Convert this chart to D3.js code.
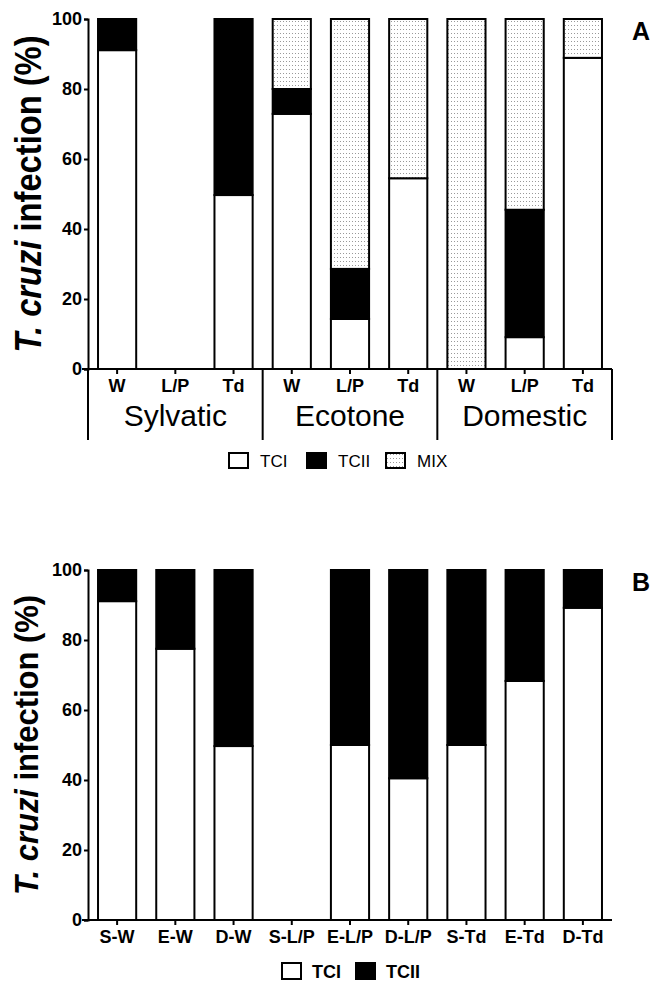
<!DOCTYPE html>
<html>
<head>
<meta charset="utf-8">
<script src="https://cdn.jsdelivr.net/npm/d3@7"></script>
<style>
    body { margin: 0; background: #fff; }
    svg { display: block; font-family: Arial, "Liberation Sans", sans-serif; }
</style>
</head>
<body>
<div id="chart"></div>
<script>
//Datos panel A
const categoriesA = ['W', 'L/P', 'Td', 'W', 'L/P', 'Td', 'W', 'L/P', 'Td'];
const groupsA = ['Sylvatic', 'Ecotone', 'Domestic'];
const tciA = [91.1, 0, 49.7, 72.9, 14.3, 54.5, 0, 9.1, 88.9];
const tciiA = [8.9, 0, 50.3, 7.1, 14.3, 0, 0, 36.4, 0];
const mixA = [0, 0, 0, 20, 71.4, 45.5, 100, 54.5, 11.1];

//Datos panel B
const categoriesB = ['S-W', 'E-W', 'D-W', 'S-L/P', 'E-L/P', 'D-L/P', 'S-Td', 'E-Td', 'D-Td'];
const tciB = [91.1, 77.5, 49.7, 0, 50, 40.5, 50, 68.3, 89.2];
const tciiB = [8.9, 22.5, 50.3, 0, 50, 59.5, 50, 31.7, 10.8];

const yTicks = [0, 20, 40, 60, 80, 100];
const yTitle = ['T. cruzi', ' infection (%)'];

let width = 655, height = 981;

let svg = d3.select('#chart').append('svg')
    .attr('width', width)
    .attr('height', height);

//Patrón punteado para MIX
let pattern = svg.append('defs').append('pattern')
    .attr('id', 'dots')
    .attr('patternUnits', 'userSpaceOnUse')
    .attr('width', 3)
    .attr('height', 4);
pattern.append('rect').attr('width', 3).attr('height', 4).attr('fill', '#fff');
pattern.append('rect').attr('x', 1).attr('y', 1).attr('width', 1).attr('height', 1).attr('fill', '#999');

const fills = { TCI: '#fff', TCII: '#000', MIX: 'url(#dots)' };

function drawPanel(opts) {
    let g = svg.append('g');

    let x = d3.scaleBand()
        .domain(d3.range(opts.categories.length))
        .range([88, 612])
        .paddingInner(0.31)
        .paddingOuter(0.155);

    let y = d3.scaleLinear()
        .domain([0, 100])
        .range([opts.bottom, opts.bottom - 350]);

    let table = opts.categories.map(function(c, i) {
        let row = { i: i };
        opts.keys.forEach(function(k) { row[k] = opts.series[k][i]; });
        return row;
    });

    let stacked = d3.stack().keys(opts.keys)(table);

    //Barras
    stacked.forEach(function(layer) {
        g.append('g').selectAll('rect')
            .data(layer.filter(function(d) { return d[1] - d[0] > 0; }))
            .enter()
            .append('rect')
            .attr('x', function(d) { return x(d.data.i) + 1; })
            .attr('width', x.bandwidth() - 2)
            .attr('y', function(d) { return y(d[1]); })
            .attr('height', function(d) { return y(d[0]) - y(d[1]); })
            .attr('fill', fills[layer.key])
            .attr('stroke', '#000')
            .attr('stroke-width', 2);
    });

    //Eje Y
    let yAxis = g.append('g')
        .attr('transform', 'translate(88,0)')
        .call(d3.axisLeft(y).tickValues(yTicks).tickSize(4).tickSizeOuter(4).tickPadding(2));
    yAxis.selectAll('path, line').attr('stroke', '#000').attr('stroke-width', 2);
    yAxis.selectAll('text')
        .attr('font-size', 18)
        .attr('font-weight', 'bold')
        .attr('font-family', 'Arial, "Liberation Sans", sans-serif')
        .attr('fill', '#000');

    //Eje X
    let xAxis = g.append('g')
        .attr('transform', 'translate(0,' + opts.bottom + ')')
        .call(d3.axisBottom(x).tickSize(5).tickSizeOuter(0)
            .tickFormat(function(i) { return opts.categories[i]; }));
    xAxis.selectAll('path, line').attr('stroke', '#000').attr('stroke-width', 2);
    xAxis.selectAll('text')
        .attr('y', opts.labelDy)
        .attr('dy', 0)
        .attr('font-size', opts.labelSize)
        .attr('font-weight', 'bold')
        .attr('font-family', 'Arial, "Liberation Sans", sans-serif')
        .attr('fill', '#000');
    xAxis.select('.domain').attr('d', 'M' + (88 - 6) + ',0H612');

    //Título eje Y
    let title = g.append('text')
        .attr('transform', 'translate(' + opts.titleX + ',' + (opts.bottom - 175) + ') rotate(-90)')
        .attr('text-anchor', 'middle')
        .attr('font-size', opts.titleSize)
        .attr('font-weight', 'bold')
        .attr('textLength', opts.titleLength)
        .attr('lengthAdjust', 'spacingAndGlyphs');
    title.append('tspan').attr('font-style', 'italic').text(yTitle[0]);
    title.append('tspan').text(yTitle[1]);

    //Letra del panel
    g.append('text')
        .attr('x', 632)
        .attr('y', opts.bottom - 329)
        .attr('font-size', 25)
        .attr('font-weight', 'bold')
        .text(opts.letter);

    return { g: g, x: x, y: y };
}

/////
// Panel A
/////
let panelA = drawPanel({
    categories: categoriesA,
    keys: ['TCI', 'TCII', 'MIX'],
    series: { TCI: tciA, TCII: tciiA, MIX: mixA },
    bottom: 369,
    labelDy: 23,
    labelSize: 18,
    titleX: 41,
    titleSize: 36,
    titleLength: 317,
    letter: 'A'
});

//Separadores de grupos y etiquetas
let xa = panelA.x;
let sepX = [88];
groupsA.forEach(function(gr, k) {
    if (k > 0) {
        sepX.push((xa(k * 3 - 1) + xa.bandwidth() + xa(k * 3)) / 2);
    }
});
sepX.push(612);

panelA.g.selectAll('.sep')
    .data(sepX)
    .enter()
    .append('line')
    .attr('x1', function(d) { return d; })
    .attr('x2', function(d) { return d; })
    .attr('y1', 369)
    .attr('y2', 440)
    .attr('stroke', '#000')
    .attr('stroke-width', 2);

panelA.g.selectAll('.grp')
    .data(groupsA)
    .enter()
    .append('text')
    .attr('x', function(d, k) { return xa(k * 3 + 1) + xa.bandwidth() / 2; })
    .attr('y', 426)
    .attr('text-anchor', 'middle')
    .attr('font-size', 30)
    .text(function(d) { return d; });

//Leyenda A
const legendA = [
    { key: 'TCI', x: 229 },
    { key: 'TCII', x: 307 },
    { key: 'MIX', x: 386 }
];
let legA = panelA.g.selectAll('.leg')
    .data(legendA)
    .enter()
    .append('g')
    .attr('transform', function(d) { return 'translate(' + d.x + ',453)'; });
legA.append('rect')
    .attr('width', 19)
    .attr('height', 15)
    .attr('fill', function(d) { return fills[d.key]; })
    .attr('stroke', '#000')
    .attr('stroke-width', 2);
legA.append('text')
    .attr('x', 31)
    .attr('y', 14)
    .attr('font-size', 17)
    .text(function(d) { return d.key; });

/////
// Panel B
/////
let panelB = drawPanel({
    categories: categoriesB,
    keys: ['TCI', 'TCII'],
    series: { TCI: tciB, TCII: tciiB },
    bottom: 920,
    labelDy: 23,
    labelSize: 18,
    titleX: 38,
    titleSize: 34,
    titleLength: 300,
    letter: 'B'
});

//Leyenda B
const legendB = [
    { key: 'TCI', x: 282 },
    { key: 'TCII', x: 356 }
];
let legB = panelB.g.selectAll('.leg')
    .data(legendB)
    .enter()
    .append('g')
    .attr('transform', function(d) { return 'translate(' + d.x + ',963)'; });
legB.append('rect')
    .attr('width', 19)
    .attr('height', 16)
    .attr('fill', function(d) { return fills[d.key]; })
    .attr('stroke', '#000')
    .attr('stroke-width', 2);
legB.append('text')
    .attr('x', 30)
    .attr('y', 15)
    .attr('font-size', 18)
    .attr('font-weight', 'bold')
    .text(function(d) { return d.key; });
</script>
</body>
</html>
